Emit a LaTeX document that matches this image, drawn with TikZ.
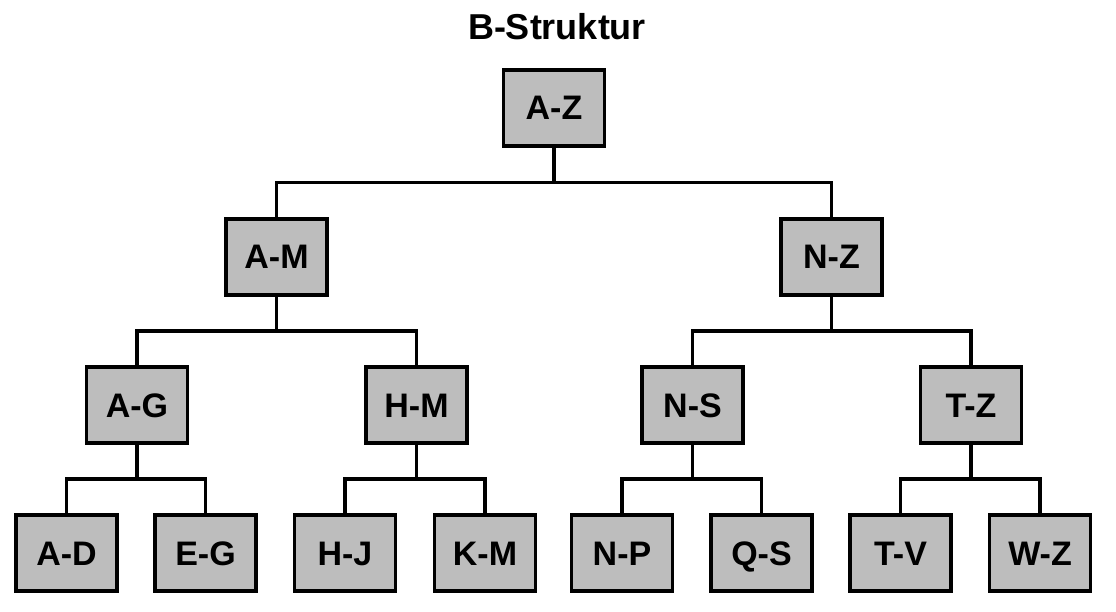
\documentclass[tikz,border=0pt]{standalone}
\usepackage{fontspec}
\setmainfont{Liberation Sans}
\usetikzlibrary{calc}
\definecolor{stipple}{gray}{0.74}
\tikzset{
  keybox/.style={draw=black, line width=3.6pt, fill=stipple, rectangle,
    minimum width=101pt, minimum height=76pt, inner sep=0pt,
    text height=24pt, text depth=0pt,
    font=\bfseries\fontsize{34}{40}\selectfont},
  link/.style={draw=black, line width=3.8pt, line join=miter}
}
\newcommand{\treelink}[2]{\draw[link] (#1.south) |- ($(#1.south)!.5!(#2.north)$) -| (#2.north);}
\begin{document}
\begin{tikzpicture}[x=1pt,y=-1pt]
\useasboundingbox (0,0) rectangle (1116,612);
\node[anchor=base, font=\bfseries\fontsize{36}{42}\selectfont] (title) at (557,40) {B-Struktur};
\node[keybox] (AZ) at (554,108) {A-Z};
\node[keybox] (AM) at (276.5,257) {A-M};
\node[keybox] (NZ) at (831.5,257) {N-Z};
\node[keybox] (AG) at (137,405) {A-G};
\node[keybox] (HM) at (416.5,405) {H-M};
\node[keybox] (NS) at (692.5,405) {N-S};
\node[keybox] (TZ) at (971,405) {T-Z};
\node[keybox] (AD) at (66.5,553) {A-D};
\node[keybox] (EG) at (205.5,553) {E-G};
\node[keybox] (HJ) at (345,553) {H-J};
\node[keybox] (KM) at (485,553) {K-M};
\node[keybox] (NP) at (622,553) {N-P};
\node[keybox] (QS) at (761.5,553) {Q-S};
\node[keybox] (TV) at (900.5,553) {T-V};
\node[keybox] (WZ) at (1040,553) {W-Z};
\treelink{AZ}{AM}
\treelink{AZ}{NZ}
\treelink{AM}{AG}
\treelink{AM}{HM}
\treelink{NZ}{NS}
\treelink{NZ}{TZ}
\treelink{AG}{AD}
\treelink{AG}{EG}
\treelink{HM}{HJ}
\treelink{HM}{KM}
\treelink{NS}{NP}
\treelink{NS}{QS}
\treelink{TZ}{TV}
\treelink{TZ}{WZ}
\end{tikzpicture}
\end{document}
